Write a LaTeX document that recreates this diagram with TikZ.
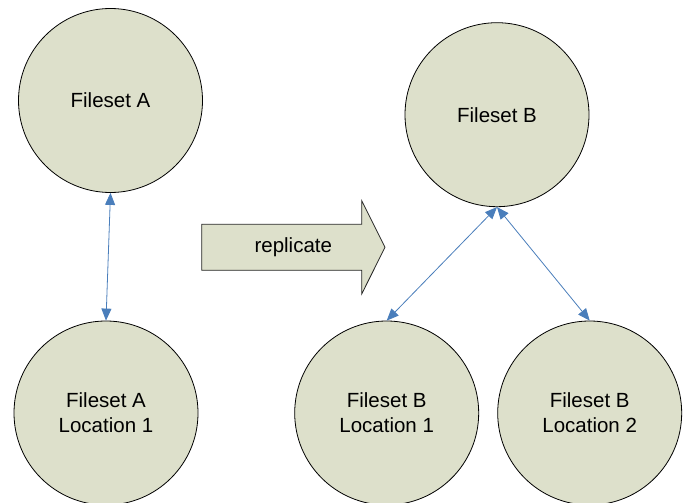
\documentclass[tikz,border=0pt]{standalone}
\usepackage{fontspec}
\setmainfont{Liberation Sans}
\usetikzlibrary{arrows.meta}
\definecolor{fillc}{RGB}{221,224,203}
\definecolor{linkc}{RGB}{74,126,187}
\begin{document}
\begin{tikzpicture}[x=1pt,y=-1pt,
  fileset/.style={circle,draw=black,line width=0.8pt,fill=fillc,minimum size=184pt,inner sep=0pt,
    align=center,font=\fontsize{20.5}{25}\selectfont},
  link/.style={draw=linkc,line width=0.8pt,{Triangle[length=12pt,width=10pt]}-{Triangle[length=12pt,width=10pt]}}]
\useasboundingbox (0,0) rectangle (683,503);
\node[fileset] (fa) at (110.5,100.5) {Fileset A};
\node[fileset] (fal) at (106,413) {Fileset A\\Location 1};
\node[fileset] (fb) at (497,114.7) {Fileset B};
\node[fileset] (fbl1) at (386.7,413) {Fileset B\\Location 1};
\node[fileset] (fbl2) at (589.7,413) {Fileset B\\Location 2};
\draw[line width=0.8pt,draw=black!85,fill=fillc]
  (201.7,224.3) -- (361.7,224.3) -- (361.7,200.7) -- (385,247.3) -- (361.7,294) -- (361.7,270.3) -- (201.7,270.3) -- cycle;
\node[font=\fontsize{20.5}{25}\selectfont] (rep) at (293.3,247.3) {replicate};
\draw[link] (fa.south) -- (fal.north);
\draw[link] (fb.south) -- (fbl1.north);
\draw[link] (fb.south) -- (fbl2.north);
\end{tikzpicture}
\end{document}
